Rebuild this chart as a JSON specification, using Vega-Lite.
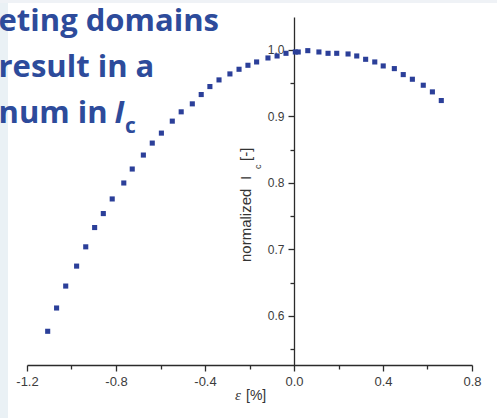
{
  "$schema": "https://vega.github.io/schema/vega-lite/v6.json",
  "width": 445,
  "height": 348,
  "autosize": {"type": "none"},
  "padding": {"left": 27, "top": 17, "right": 25, "bottom": 53},
  "background": "white",
  "config": {
    "view": {"stroke": null},
    "axis": {
      "labelFont": "Liberation Sans",
      "labelColor": "#3c3c3c",
      "domainColor": "#2b2b2b",
      "tickColor": "#2b2b2b",
      "domainWidth": 1.3,
      "tickWidth": 1.3,
      "grid": false,
      "labelFlush": false,
      "labelOverlap": false,
      "labelBound": false,
      "title": null
    }
  },
  "data": {
    "values": [
      {"strain": -1.107, "ic": 0.577},
      {"strain": -1.067, "ic": 0.612},
      {"strain": -1.026, "ic": 0.645},
      {"strain": -0.977, "ic": 0.675},
      {"strain": -0.936, "ic": 0.704},
      {"strain": -0.896, "ic": 0.733},
      {"strain": -0.857, "ic": 0.754},
      {"strain": -0.817, "ic": 0.776},
      {"strain": -0.765, "ic": 0.800},
      {"strain": -0.727, "ic": 0.821},
      {"strain": -0.677, "ic": 0.842},
      {"strain": -0.637, "ic": 0.860},
      {"strain": -0.596, "ic": 0.875},
      {"strain": -0.547, "ic": 0.893},
      {"strain": -0.507, "ic": 0.907},
      {"strain": -0.457, "ic": 0.919},
      {"strain": -0.417, "ic": 0.933},
      {"strain": -0.378, "ic": 0.945},
      {"strain": -0.337, "ic": 0.955},
      {"strain": -0.288, "ic": 0.964},
      {"strain": -0.247, "ic": 0.971},
      {"strain": -0.207, "ic": 0.977},
      {"strain": -0.168, "ic": 0.982},
      {"strain": -0.117, "ic": 0.988},
      {"strain": -0.076, "ic": 0.991},
      {"strain": -0.036, "ic": 0.995},
      {"strain": 0.006, "ic": 0.997},
      {"strain": 0.019, "ic": 0.997},
      {"strain": 0.062, "ic": 0.999},
      {"strain": 0.112, "ic": 0.997},
      {"strain": 0.153, "ic": 0.995},
      {"strain": 0.192, "ic": 0.995},
      {"strain": 0.243, "ic": 0.994},
      {"strain": 0.282, "ic": 0.991},
      {"strain": 0.322, "ic": 0.986},
      {"strain": 0.363, "ic": 0.982},
      {"strain": 0.401, "ic": 0.976},
      {"strain": 0.451, "ic": 0.972},
      {"strain": 0.491, "ic": 0.963},
      {"strain": 0.532, "ic": 0.956},
      {"strain": 0.581, "ic": 0.947},
      {"strain": 0.622, "ic": 0.937},
      {"strain": 0.662, "ic": 0.924}
    ]
  },
  "resolve": {"axis": {"x": "independent", "y": "independent"}},
  "layer": [
    {
      "data": {"values": [{}]},
      "mark": {"type": "rect", "color": "#eaf1f5", "clip": false},
      "encoding": {
        "x": {"datum": -1.34, "type": "quantitative", "scale": {"domain": [-1.2, 0.8], "nice": false, "zero": false}, "axis": null},
        "x2": {"datum": -1.2854},
        "y": {"datum": 0.44, "type": "quantitative", "scale": {"domain": [0.5263, 1.0496], "nice": false, "zero": false}, "axis": null},
        "y2": {"datum": 1.09}
      }
    },
    {
      "data": {"values": [{}]},
      "mark": {"type": "rect", "color": "#eff2f6", "clip": false},
      "encoding": {
        "x": {"datum": -1.34, "type": "quantitative", "scale": {"domain": [-1.2, 0.8], "nice": false, "zero": false}, "axis": null},
        "x2": {"datum": 0.95},
        "y": {"datum": 1.0707, "type": "quantitative", "scale": {"domain": [0.5263, 1.0496], "nice": false, "zero": false}, "axis": null},
        "y2": {"datum": 1.09}
      }
    },
    {
      "mark": {"type": "point", "opacity": 0},
      "encoding": {
        "x": {
          "field": "strain", "type": "quantitative",
          "scale": {"domain": [-1.2, 0.8], "nice": false, "zero": false},
          "axis": {"orient": "bottom", "values": [-1.0, -0.6, -0.2, 0.2, 0.6], "labels": false, "domain": false, "tickSize": 4}
        },
        "y": {
          "field": "ic", "type": "quantitative",
          "scale": {"domain": [0.5263, 1.0496], "nice": false, "zero": false},
          "axis": {"orient": "left", "offset": -267, "values": [0.55, 0.65, 0.75, 0.85, 0.95], "labels": false, "domain": false, "tickSize": 4}
        }
      }
    },
    {
      "mark": {"type": "square", "size": 26, "color": "#2b3f99", "opacity": 1},
      "encoding": {
        "x": {
          "field": "strain", "type": "quantitative",
          "scale": {"domain": [-1.2, 0.8], "nice": false, "zero": false},
          "axis": {"orient": "bottom", "values": [-1.2, -0.8, -0.4, 0, 0.4, 0.8], "labelExpr": "replace(format(datum.value, '.1f'), '\u2212', '-')", "labelFontSize": 13, "tickSize": 6, "labelPadding": 4}
        },
        "y": {
          "field": "ic", "type": "quantitative",
          "scale": {"domain": [0.5263, 1.0496], "nice": false, "zero": false},
          "axis": {"orient": "left", "offset": -267, "values": [0.6, 0.7, 0.8, 0.9, 1.0], "labelExpr": "format(datum.value, '.1f')", "labelFontSize": 12, "tickSize": 6, "labelPadding": 4}
        }
      }
    },
    {
      "data": {"values": [{"t": "eting domains", "px": -1.328, "py": 1.0285}, {"t": "result in a", "px": -1.328, "py": 0.9594}, {"t": "num in ", "px": -1.328, "py": 0.8902}]},
      "mark": {"type": "text", "font": "Open Sans", "fontWeight": "bold", "fontSize": 31, "color": "#2d4b9b", "align": "left", "baseline": "alphabetic", "clip": false},
      "encoding": {
        "x": {"field": "px", "type": "quantitative", "scale": {"domain": [-1.2, 0.8], "nice": false, "zero": false}, "axis": null},
        "y": {"field": "py", "type": "quantitative", "scale": {"domain": [0.5263, 1.0496], "nice": false, "zero": false}, "axis": null},
        "text": {"field": "t"}
      }
    },
    {
      "data": {"values": [{}]},
      "mark": {"type": "text", "text": "I", "font": "Open Sans", "fontWeight": "bold", "fontStyle": "italic", "fontSize": 31, "color": "#2d4b9b", "align": "left", "baseline": "alphabetic", "clip": false},
      "encoding": {
        "x": {"datum": -0.8067, "type": "quantitative", "scale": {"domain": [-1.2, 0.8], "nice": false, "zero": false}, "axis": null},
        "y": {"datum": 0.8902, "type": "quantitative", "scale": {"domain": [0.5263, 1.0496], "nice": false, "zero": false}, "axis": null}
      }
    },
    {
      "data": {"values": [{}]},
      "mark": {"type": "text", "text": "c", "font": "Open Sans", "fontWeight": "bold", "fontSize": 21, "color": "#2d4b9b", "align": "left", "baseline": "alphabetic", "clip": false},
      "encoding": {
        "x": {"datum": -0.7595, "type": "quantitative", "scale": {"domain": [-1.2, 0.8], "nice": false, "zero": false}, "axis": null},
        "y": {"datum": 0.8752, "type": "quantitative", "scale": {"domain": [0.5263, 1.0496], "nice": false, "zero": false}, "axis": null}
      }
    },
    {
      "data": {"values": [{"t": "normalized", "px": -0.1955, "py": 0.6812, "sty": "normal", "fs": 15}, {"t": "I", "px": -0.1955, "py": 0.8045, "sty": "italic", "fs": 15}, {"t": "c", "px": -0.1461, "py": 0.8210, "sty": "normal", "fs": 9}, {"t": "[-]", "px": -0.1955, "py": 0.8331, "sty": "normal", "fs": 15}]},
      "mark": {"type": "text", "font": "Liberation Sans", "color": "#333333", "angle": 270, "align": "left", "baseline": "alphabetic", "clip": false},
      "encoding": {
        "x": {"field": "px", "type": "quantitative", "scale": {"domain": [-1.2, 0.8], "nice": false, "zero": false}, "axis": null},
        "y": {"field": "py", "type": "quantitative", "scale": {"domain": [0.5263, 1.0496], "nice": false, "zero": false}, "axis": null},
        "text": {"field": "t"},
        "fontStyle": {"field": "sty", "type": "nominal", "scale": null},
        "size": {"field": "fs", "type": "quantitative", "scale": null}
      }
    },
    {
      "data": {"values": [{}]},
      "mark": {"type": "text", "text": "\u03b5", "font": "Liberation Serif", "fontStyle": "italic", "fontSize": 15, "color": "#333333", "align": "left", "baseline": "alphabetic", "clip": false},
      "encoding": {
        "x": {"datum": -0.2652, "type": "quantitative", "scale": {"domain": [-1.2, 0.8], "nice": false, "zero": false}, "axis": null},
        "y": {"datum": 0.4737, "type": "quantitative", "scale": {"domain": [0.5263, 1.0496], "nice": false, "zero": false}, "axis": null}
      }
    },
    {
      "data": {"values": [{}]},
      "mark": {"type": "text", "text": "[%]", "font": "Liberation Sans", "fontSize": 14, "color": "#333333", "align": "left", "baseline": "alphabetic", "clip": false},
      "encoding": {
        "x": {"datum": -0.2157, "type": "quantitative", "scale": {"domain": [-1.2, 0.8], "nice": false, "zero": false}, "axis": null},
        "y": {"datum": 0.4737, "type": "quantitative", "scale": {"domain": [0.5263, 1.0496], "nice": false, "zero": false}, "axis": null}
      }
    }
  ]
}
